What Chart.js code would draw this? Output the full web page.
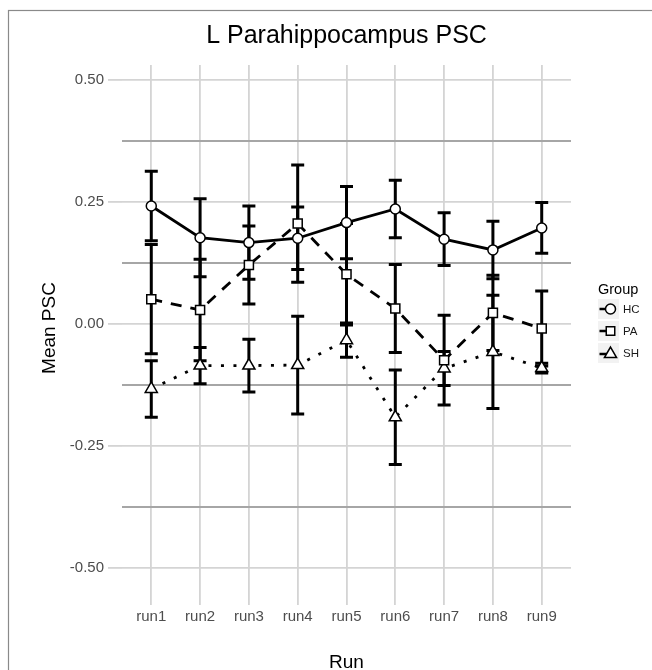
<!DOCTYPE html>
<html><head><meta charset="utf-8">
<script src="https://cdn.jsdelivr.net/npm/chart.js@4.4.1/dist/chart.umd.min.js"></script>
<style>html,body{margin:0;padding:0;background:#fff}#wrap{width:652px;height:670px;position:relative}canvas{display:block}</style>
</head><body><div id="wrap"><canvas id="c" width="652" height="670"></canvas></div>
<script>
// ---- data ----
const categories = ['run1','run2','run3','run4','run5','run6','run7','run8','run9'];
const groups = ['HC','PA','SH'];
const hcMean = [0.242, 0.177, 0.167, 0.176, 0.208, 0.236, 0.174, 0.152, 0.197];
const hcSE   = [0.071, 0.080, 0.075, 0.064, 0.074, 0.059, 0.054, 0.059, 0.052];
const paMean = [0.051, 0.029, 0.121, 0.206, 0.102, 0.032, -0.074, 0.023, -0.009];
const paSE   = [0.112, 0.104, 0.080, 0.120, 0.104, 0.090, 0.092, 0.077, 0.077];
const shMean = [-0.133, -0.085, -0.085, -0.084, -0.033, -0.191, -0.091, -0.057, -0.090];
const shSE   = [0.058, 0.037, 0.054, 0.100, 0.035, 0.097, 0.035, 0.116, 0.010];
const yMajorTicks = [-0.50, -0.25, 0.00, 0.25, 0.50];
const yMinorTicks = [-0.375, -0.125, 0.125, 0.375];
const chartTitle = 'L Parahippocampus PSC';
const xTitle = 'Run';
const yTitle = 'Mean PSC';
const legendTitle = 'Group';

const FONT = '"Liberation Sans", Arial, Helvetica, sans-serif';
const isMajor = v => yMajorTicks.some(t => Math.abs(t - v) < 1e-9);

function drawMarker(ctx, style, x, y, r) {
  ctx.save();
  ctx.fillStyle = '#fff'; ctx.strokeStyle = '#000'; ctx.lineWidth = 1.5; ctx.setLineDash([]);
  ctx.beginPath();
  if (style === 'circle') { ctx.arc(x, y, r, 0, Math.PI * 2); }
  else if (style === 'rect') { const s = r * Math.SQRT1_2; ctx.rect(x - s, y - s, 2 * s, 2 * s); }
  else { // triangle
    let a = 0;
    ctx.moveTo(x + Math.sin(a) * r, y - Math.cos(a) * r); a += 2 * Math.PI / 3;
    ctx.lineTo(x + Math.sin(a) * r, y - Math.cos(a) * r); a += 2 * Math.PI / 3;
    ctx.lineTo(x + Math.sin(a) * r, y - Math.cos(a) * r);
    ctx.closePath();
  }
  ctx.fill(); ctx.stroke();
  ctx.restore();
}

const seriesMeans = [hcMean, paMean, shMean];
const seriesSE = [hcSE, paSE, shSE];
const seriesDash = [[], [11, 9], [3, 9.5]];
const seriesStyle = ['circle', 'rect', 'triangle'];
const seriesRadius = [5, 6.4, 7];

const datasets = groups.map((g, k) => ({
  label: g,
  data: seriesMeans[k].map((v, i) => ({ x: i + 1, y: v })),
  se: seriesSE[k],
  borderColor: '#000',
  borderWidth: 2.8,
  borderDash: seriesDash[k],
  borderCapStyle: 'butt',
  pointStyle: seriesStyle[k],
  pointRadius: seriesRadius[k],
  pointHoverRadius: seriesRadius[k],
  pointBackgroundColor: '#fff',
  pointBorderColor: '#000',
  pointBorderWidth: 1.5,
  tension: 0,
  fill: false
}));

const bgPlugin = {
  id: 'bg',
  beforeDraw(chart) {
    const ctx = chart.ctx;
    ctx.save();
    ctx.fillStyle = '#fff';
    ctx.fillRect(0, 0, chart.width, chart.height);
    ctx.strokeStyle = '#8a8a8a'; ctx.lineWidth = 1.2;
    ctx.strokeRect(8.5, 10.5, 700, 700);
    ctx.restore();
  }
};

const errorBarPlugin = {
  id: 'errbars',
  beforeDatasetsDraw(chart) {
    const ctx = chart.ctx, xs = chart.scales.x, ys = chart.scales.y;
    ctx.save();
    ctx.strokeStyle = '#000'; ctx.lineWidth = 3; ctx.setLineDash([]); ctx.lineCap = 'butt';
    chart.data.datasets.forEach(ds => {
      ds.data.forEach((p, i) => {
        const x = xs.getPixelForValue(p.x);
        const yt = ys.getPixelForValue(p.y + ds.se[i]);
        const yb = ys.getPixelForValue(p.y - ds.se[i]);
        const hw = 6.5;
        ctx.beginPath();
        ctx.moveTo(x, yt); ctx.lineTo(x, yb);
        ctx.moveTo(x - hw, yt); ctx.lineTo(x + hw, yt);
        ctx.moveTo(x - hw, yb); ctx.lineTo(x + hw, yb);
        ctx.stroke();
      });
    });
    ctx.restore();
  }
};

const textPlugin = {
  id: 'texts',
  afterDraw(chart) {
    const ctx = chart.ctx, area = chart.chartArea;
    const cx = (area.left + area.right) / 2;
    ctx.save();
    ctx.fillStyle = '#000';
    ctx.textAlign = 'center'; ctx.textBaseline = 'alphabetic';
    ctx.font = '25px ' + FONT;
    ctx.fillText(chartTitle, cx, 43);
    ctx.font = '19px ' + FONT;
    ctx.fillText(xTitle, cx, 668);
    ctx.save();
    ctx.translate(55, (area.top + area.bottom) / 2);
    ctx.rotate(-Math.PI / 2);
    ctx.fillText(yTitle, 0, 0);
    ctx.restore();
    // legend
    ctx.textAlign = 'left';
    ctx.font = '14.5px ' + FONT;
    ctx.fillText(legendTitle, 598, 294);
    const keyTop = 298, keyH = 22, keyX = 597, keyW = 23;
    chart.data.datasets.forEach((ds, k) => {
      const y0 = keyTop + k * keyH;
      ctx.fillStyle = '#f2f2f2';
      ctx.fillRect(keyX, y0, keyW, keyH);
      ctx.strokeStyle = '#fff'; ctx.lineWidth = 1; ctx.setLineDash([]);
      ctx.strokeRect(keyX + 0.5, y0 + 0.5, keyW - 1, keyH - 1);
      const cy = y0 + keyH / 2 + (k === 2 ? 1 : 0);
      ctx.strokeStyle = '#000'; ctx.lineWidth = 2.5;
      ctx.beginPath(); ctx.moveTo(599.5, cy); ctx.lineTo(610, cy); ctx.stroke();
      drawMarker(ctx, ds.pointStyle, 610.5, cy, k === 0 ? 5 : (k === 1 ? 6 : 7));
      ctx.fillStyle = '#1a1a1a';
      ctx.font = '11.5px ' + FONT;
      ctx.fillText(ds.label, 623, y0 + keyH / 2 + 4);
    });
    ctx.restore();
  }
};

new Chart(document.getElementById('c'), {
  type: 'line',
  data: { datasets },
  plugins: [bgPlugin, errorBarPlugin, textPlugin],
  options: {
    responsive: false,
    devicePixelRatio: 1,
    animation: false,
    events: [],
    layout: { padding: { left: 0, top: 65, right: 81, bottom: 0 } },
    plugins: { legend: { display: false }, title: { display: false }, tooltip: { enabled: false } },
    scales: {
      x: {
        type: 'linear',
        min: 0.4, max: 9.6,
        afterBuildTicks: s => { s.ticks = categories.map((c, i) => ({ value: i + 1 })); },
        afterFit: s => { s.height = 79; },
        border: { display: false },
        grid: { color: '#d4d4d4', lineWidth: 1.8, tickLength: 14, tickColor: '#d4d4d4', tickWidth: 1.8 },
        ticks: {
          autoSkip: false, maxRotation: 0, padding: 3,
          font: { family: FONT, size: 15 }, color: '#4d4d4d',
          callback: v => categories[Math.round(v) - 1]
        }
      },
      y: {
        type: 'linear',
        min: -0.547, max: 0.531,
        afterBuildTicks: s => { s.ticks = yMajorTicks.concat(yMinorTicks).sort((a, b) => a - b).map(v => ({ value: v })); },
        afterFit: s => { s.width = 122; },
        border: { display: false },
        grid: {
          color: c => (c.tick && isMajor(c.tick.value)) ? '#d4d4d4' : '#a6a6a6',
          lineWidth: c => (c.tick && isMajor(c.tick.value)) ? 1.8 : 2,
          tickLength: 14,
          tickColor: c => (c.tick && isMajor(c.tick.value)) ? '#d4d4d4' : 'rgba(0,0,0,0)',
          tickWidth: 1.8
        },
        ticks: {
          autoSkip: false, padding: 4,
          font: { family: FONT, size: 15 }, color: '#4d4d4d',
          callback: v => isMajor(v) ? v.toFixed(2) : ''
        }
      }
    }
  }
});
</script>
</body></html>
